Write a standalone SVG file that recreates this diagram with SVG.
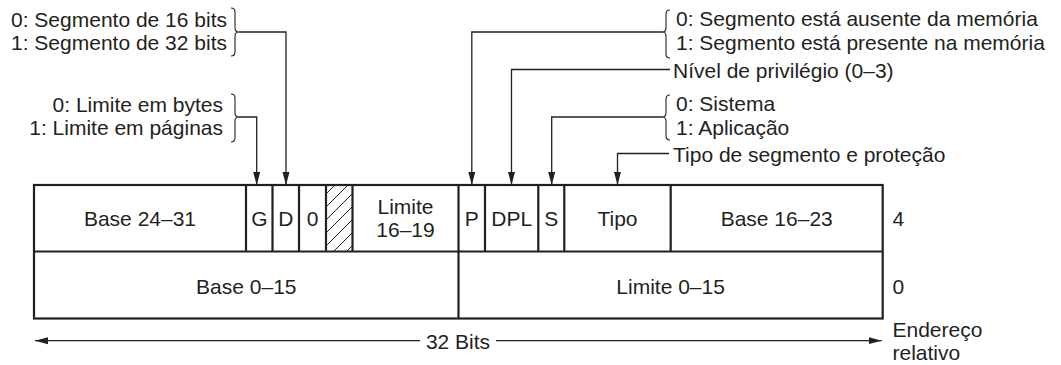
<svg xmlns="http://www.w3.org/2000/svg" width="1061" height="365" viewBox="0 0 1061 365">
<style>
text{font-family:"Liberation Sans",Arial,sans-serif;font-size:21px;fill:#231f20}
.c{text-anchor:middle}
.e{text-anchor:end}
.box{fill:none;stroke:#231f20;stroke-width:2.2}
.conn{fill:none;stroke:#231f20;stroke-width:1.3}
.brace{fill:none;stroke:#231f20;stroke-width:1.1}
</style>
<defs>
<marker id="ah" markerUnits="userSpaceOnUse" markerWidth="14" markerHeight="8" refX="13" refY="3.5" orient="auto">
<path d="M0,0 L13,3.5 L0,7 z" fill="#231f20"/>
</marker>
<marker id="ahs" markerUnits="userSpaceOnUse" markerWidth="14" markerHeight="8" refX="0" refY="3.5" orient="auto">
<path d="M13,0 L0,3.5 L13,7 z" fill="#231f20"/>
</marker>
<pattern id="hatch" width="13" height="13" patternUnits="userSpaceOnUse">
<path d="M0,13 L13,0 M-2,2 L2,-2 M11,15 L15,11" stroke="#231f20" stroke-width="1"/>
</pattern>
</defs>

<g id="descriptor">
<rect x="326" y="185" width="26.5" height="66.5" fill="url(#hatch)"/>
<rect class="box" x="34" y="185" width="848.7" height="133.5"/>
<line class="box" x1="34" y1="251.5" x2="882.7" y2="251.5"/>
<path class="box" d="M246,185V251.5M272.5,185V251.5M299,185V251.5M326,185V251.5M352.5,185V251.5M458.5,185V318.5M485,185V251.5M538.3,185V251.5M564.3,185V251.5M670.7,185V251.5"/>
</g>

<g id="cell-base-24-31"><text class="c" x="140" y="225.5">Base 24–31</text></g>
<g id="cell-g"><text class="c" x="259.3" y="225.5">G</text></g>
<g id="cell-d"><text class="c" x="285.8" y="225.5">D</text></g>
<g id="cell-0"><text class="c" x="312.5" y="225.5">0</text></g>
<g id="cell-limite-16-19"><text class="c" x="405.5" y="213.5">Limite</text><text class="c" x="405.5" y="237">16–19</text></g>
<g id="cell-p"><text class="c" x="471.8" y="225.5">P</text></g>
<g id="cell-dpl"><text class="c" x="511.7" y="225.5">DPL</text></g>
<g id="cell-s"><text class="c" x="551.3" y="225.5">S</text></g>
<g id="cell-tipo"><text class="c" x="617.5" y="225.5">Tipo</text></g>
<g id="cell-base-16-23"><text class="c" x="776.7" y="225.5">Base 16–23</text></g>
<g id="cell-base-0-15"><text class="c" x="246.3" y="293.5">Base 0–15</text></g>
<g id="cell-limite-0-15"><text class="c" x="670.6" y="293.5">Limite 0–15</text></g>

<g id="label-4"><text x="892.5" y="225.5">4</text></g>
<g id="label-0"><text x="892.5" y="293.5">0</text></g>
<g id="label-endereco"><text x="892.5" y="337">Endereço</text><text x="892.5" y="360">relativo</text></g>

<g id="label-db">
<text class="e" x="227" y="27">0: Segmento de 16 bits</text>
<text class="e" x="227" y="50">1: Segmento de 32 bits</text>
<path class="brace" d="M231,8 Q235,8 235,12 L235,28 Q235,32 239,32 Q235,32 235,36 L235,52 Q235,56 231,56"/>
</g>
<g id="label-g">
<text class="e" x="223" y="111.5">0: Limite em bytes</text>
<text class="e" x="223" y="134.5">1: Limite em páginas</text>
<path class="brace" d="M231,94 Q235,94 235,98 L235,113 Q235,117 239,117 Q235,117 235,121 L235,138 Q235,142 231,142"/>
</g>
<g id="label-p">
<text x="676" y="26">0: Segmento está ausente da memória</text>
<text x="676" y="49.5">1: Segmento está presente na memória</text>
<path class="brace" d="M670,10 Q666,10 666,14 L666,28 Q666,32 662,32 Q666,32 666,36 L666,54 Q666,58 670,58"/>
</g>
<g id="label-dpl"><text x="673" y="77.5">Nível de privilégio (0–3)</text></g>
<g id="label-s">
<text x="676" y="111">0: Sistema</text>
<text x="676" y="134.5">1: Aplicação</text>
<path class="brace" d="M670,95 Q666,95 666,99 L666,113 Q666,117 662,117 Q666,117 666,121 L666,136 Q666,140 670,140"/>
</g>
<g id="label-tipo"><text x="673" y="162">Tipo de segmento e proteção</text></g>
<g id="label-32bits"><text class="c" x="458" y="348.5">32 Bits</text></g>

<g id="connectors">
<path class="conn" d="M239,32 H286 V185" marker-end="url(#ah)"/>
<path class="conn" d="M239,117 H256.7 V185" marker-end="url(#ah)"/>
<path class="conn" d="M662,32 H471.8 V185" marker-end="url(#ah)"/>
<path class="conn" d="M670,69.5 H511.5 V185" marker-end="url(#ah)"/>
<path class="conn" d="M662,117 H551.7 V185" marker-end="url(#ah)"/>
<path class="conn" d="M669,153.5 H617.5 V185" marker-end="url(#ah)"/>
<path class="conn" d="M35,340.7 H420" marker-start="url(#ahs)"/>
<path class="conn" d="M496,340.7 H881.7" marker-end="url(#ah)"/>
</g>
</svg>
